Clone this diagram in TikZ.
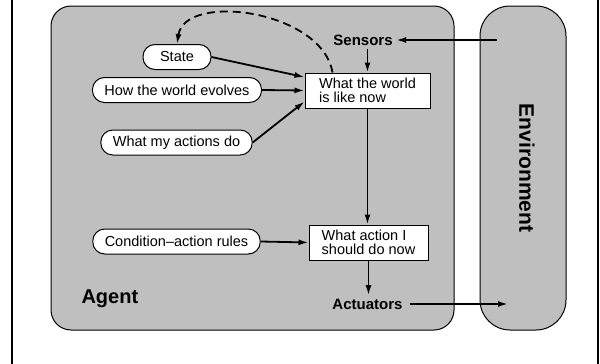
\documentclass[tikz,border=0pt]{standalone}
\usepackage{fontspec}
\setmainfont{Liberation Sans}
\usetikzlibrary{arrows.meta,calc}

\tikzset{
  pill/.style={draw, line width=1pt, fill=white, rounded corners=12pt, minimum height=25pt,
    minimum width=68pt, inner xsep=12pt, inner ysep=0pt,
    font=\fontsize{14.5}{14}\selectfont},
  statebox/.style={draw, line width=1pt, fill=white, align=left, minimum height=35pt,
    inner sep=0pt, font=\fontsize{14.5}{14}\selectfont},
  bold/.style={font=\bfseries\fontsize{15}{15}\selectfont},
  arr/.style={line width=1.8pt, -{Latex[length=10pt,width=6pt]}},
}

\begin{document}
\begin{tikzpicture}[x=1pt,y=-1pt]
\useasboundingbox (0,0) rectangle (600,364);

% frame
\draw[line width=2pt] (12,0) -- (12,364);
\draw[line width=2pt] (598,0) -- (598,364);

% agent and environment
\draw[line width=1pt, fill=gray!50, rounded corners=20pt] (51,6) rectangle (454,330);
\draw[line width=1pt, fill=gray!50, rounded corners=30pt] (480,6) rectangle (566,330);
\node[bold, font=\bfseries\fontsize{20}{20}\selectfont, anchor=base west] (agent) at (78,303) {Agent};
\node[bold, font=\bfseries\fontsize{21}{21}\selectfont, rotate=-90] (env) at (527,168) {Environment};

% inside the agent
\node[pill] (state) at (177,57) {State};
\node[pill] (evolves) at (177,90) {How the world evolves};
\node[pill] (actions) at (176.5,142.5) {What my actions do};
\node[pill] (rules) at (176.5,241.5) {Condition--action rules};

\node[statebox, minimum width=125pt] (world) at (367.5,90.5) {What the world\\is like now};
\node[statebox, minimum width=119pt] (action) at (368.5,242.5) {What action I\\should do now};

\node[bold] (sensors) at (363,40) {Sensors};
\node[bold, inner xsep=7pt] (actuators) at (367.5,304) {Actuators};

\coordinate (envin) at (497,40);
\coordinate (envout) at (508,304);

% arrows
\draw[arr] (envin) -- (sensors.east);
\draw[arr] (world.north |- sensors.south) -- (world.north);
\draw[arr] (world.south) -- (world.south |- action.north);
\draw[arr] (action.south) -- (action.south |- actuators.north);
\draw[arr] (actuators.east) -- (envout);

\draw[arr] (state.east) -- (world.168);
\draw[arr] (evolves.east) -- (world.west);
\draw[arr] (actions.east) -- (world.190);
\draw[arr] (rules.east) -- (action.west);

\draw[arr, dash pattern=on 8pt off 5pt] ($(world.north)+(-35,0)$) .. controls (322,10) and (185,-8) .. (state.north);

\end{tikzpicture}
\end{document}
